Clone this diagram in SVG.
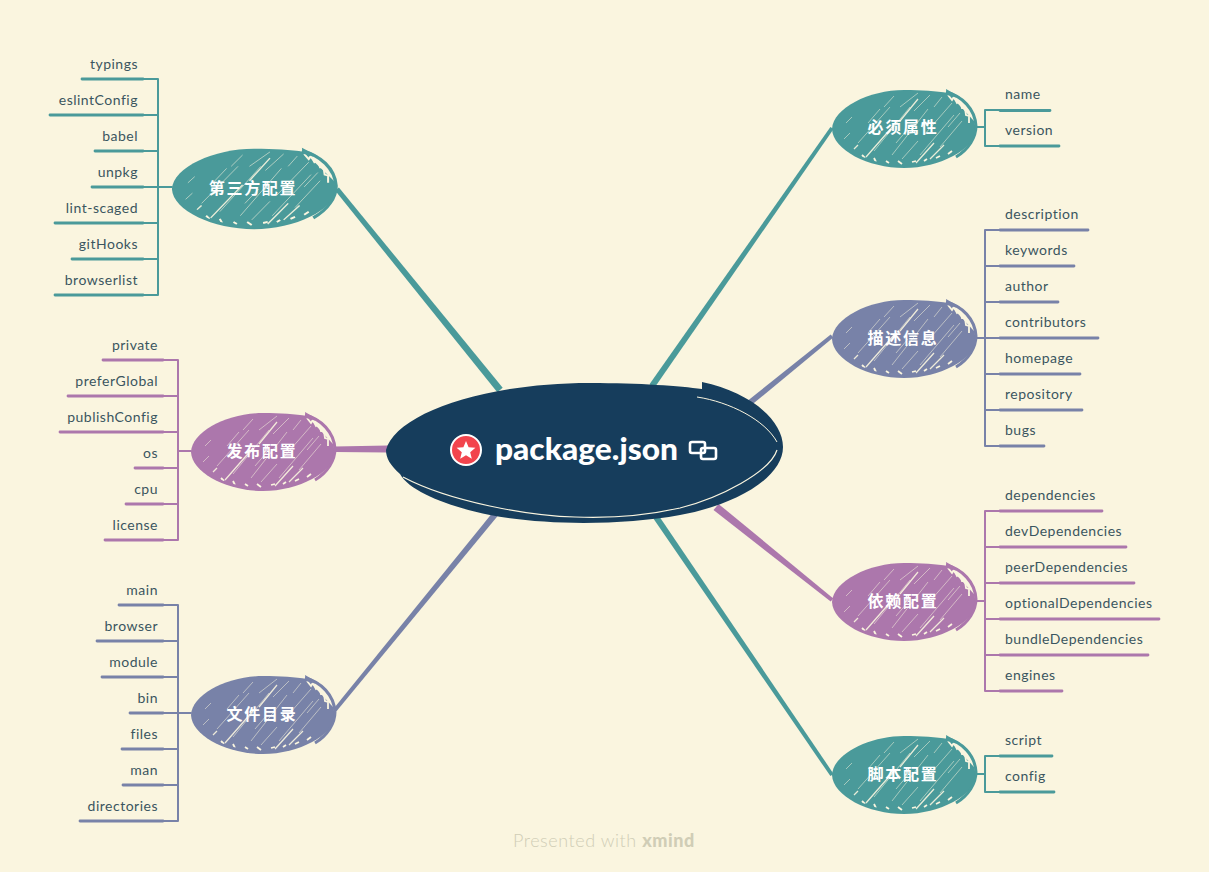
<svg xmlns="http://www.w3.org/2000/svg" width="1209" height="872" viewBox="0 0 1209 872">
<style>
.teal{color:#4a9a9a}.slate{color:#7882a8}.purple{color:#ac77ac}
.leaf{font:14px Lato,"Noto Sans",sans-serif;fill:#3a5560;letter-spacing:.5px}
.end{text-anchor:end}
.topic{font:bold 16px "Noto Sans CJK SC",sans-serif;fill:#fff;text-anchor:middle;letter-spacing:1.7px}
.u{fill:none;stroke:currentColor;stroke-width:2.8;stroke-linecap:round}
.v{fill:none;stroke:currentColor;stroke-width:2;stroke-linecap:round}
</style>
<defs>
<clipPath id="cp"><path d="M-70,0C-69,-20 -35,-37 0,-37C20,-37 40,-36 50,-32C62,-26 69,-12 70,0C69,19 35,36 0,36C-35,36 -69,19 -70,0Z"/></clipPath>
<symbol id="blob" overflow="visible" viewBox="-80 -45 160 90" width="160" height="90">
<path fill="currentColor" d="M-72,0C-71,-21 -35,-39 0,-39C18,-39 32,-38 44,-36L70,-8L72,0C71,20 36,39 0,39C-36,39 -71,21 -72,0Z"/>
<path fill="none" stroke="currentColor" stroke-width="3" d="M42,-37C58,-33 71,-20 72,-3C72,8 65,20 52,28"/>
<path fill="currentColor" d="M42,-40L43,-31L56,-32Z"/>
<g clip-path="url(#cp)" fill="none" stroke="#faf5df">
<path stroke-width=".7" opacity=".75" d="M-58,-6L-52,-12M-46,14L-14,-22M-36,-6L-24,-20M-20,-22L-10,-33M-30,22L6,-22M-4,-22L14,-36M-12,26L24,-20M10,-18L26,-34M-2,30L14,12M20,6L48,-26M16,26L50,-14M36,18L58,-8M30,-22L38,-32M-8,14L4,0M44,-2L56,-16M-60,10L-54,4"/>
<path stroke-width="1.300" opacity=".9" d="M-38,28L-10,-4M-4,-8L14,-30M12,34L30,14M26,30L40,16M-50,20L-46,16"/>
<path stroke-width="1.800" d="M44,-34L48,-29L50,-32L53,-26L56,-28L58,-21L61,-21L62,-14L65,-13L65,-6M-42,26L-39,29M-30,29L-28,33M-18,32L-15,34M-6,32L-2,35M8,33L12,32M20,32L23,30M32,29L36,27M44,25L48,22"/>
</g>
</symbol>
</defs>
<rect width="1209" height="872" fill="#faf5df"/>
<g id="connectors">
<polygon fill="#4a9a9a" points="654.5,387.7 649.5,384.3 830.4,126.9 833.6,129.1"/>
<polygon fill="#7882a8" points="743.9,411.3 740.1,406.7 830.7,334.4 833.3,337.6"/>
<polygon fill="#ac77ac" points="718.5,503.9 713.5,510.1 830.7,601.6 833.3,598.4"/>
<polygon fill="#4a9a9a" points="658.5,515.3 653.5,518.7 830.4,776.1 833.6,773.9"/>
<polygon fill="#4a9a9a" points="502.7,387.8 497.3,392.2 335.1,190.6 338.9,187.4"/>
<polygon fill="#ac77ac" points="388,445.500 388,452.500 335,452 335,446.500"/>
<polygon fill="#7882a8" points="499.3,513.9 494.7,510.1 333.5,708.7 336.5,711.3"/>
<g class="teal">
<path class="v" d="M975,127H985M985,110V146M985,110H1000M985,146H1000"/>
<path class="u" d="M1000,110.500H1050M1000,146H1059"/>
<path class="v" d="M975,774H985M985,756V792M985,756H1000M985,792H1000"/>
<path class="u" d="M1000,756H1052M1000,792H1054"/>
<path class="v" d="M172,187H158M158,79V295M158,79H143M158,115H143M158,151H143M158,187H143M158,223H143M158,259H143M158,295H143"/>
<path class="u" d="M143,79H82M143,115H50M143,151H95M143,187H92M143,223H55M143,259H72M143,295H55"/>
</g>
<g class="slate">
<path class="v" d="M975,338H985M985,230V446M985,230H1000M985,266H1000M985,302H1000M985,338H1000M985,374H1000M985,410H1000M985,446H1000"/>
<path class="u" d="M1000,230H1088M1000,266H1074M1000,302H1058M1000,338H1098M1000,374H1080M1000,410H1082M1000,446H1044"/>
<path class="v" d="M191,713H178M178,605V821M178,605H163M178,641H163M178,677H163M178,713H163M178,749H163M178,785H163M178,821H163"/>
<path class="u" d="M163,605H119M163,641H97M163,677H102M163,713H130M163,749H122M163,785H123M163,821H80"/>
</g>
<g class="purple">
<path class="v" d="M975,601H985M985,511V691M985,511H1000M985,547H1000M985,583H1000M985,619H1000M985,655H1000M985,691H1000"/>
<path class="u" d="M1000,511H1102M1000,547H1126M1000,583H1134M1000,619H1159M1000,655H1148M1000,691H1062"/>
<path class="v" d="M191,451H178M178,360V540M178,360H163M178,396H163M178,432H163M178,468H163M178,504H163M178,540H163"/>
<path class="u" d="M163,360H103M163,396H68M163,432H60M163,468H135M163,504H126M163,540H105"/>
</g>
</g>
<g id="central">
<path fill="#163d5c" d="M386,450C395,415 480,383 590,383C640,383 680,386 702,389L702,382C750,392 783,420 783,447C783,478 735,505 680,515C620,526 540,525 490,515C450,507 410,492 400,474C390,465 386,458 386,450Z"/>
<path fill="none" stroke="#faf5df" stroke-width="1" d="M697,397C730,402 765,420 777,442"/>
<path fill="none" stroke="#faf5df" stroke-width="1.200" d="M777,450C770,472 720,498 680,508C640,517 600,518 575,517C530,516 450,502 403,477"/>
<circle cx="466" cy="450" r="15" fill="#f2444d" stroke="#fff" stroke-width="2"/>
<path fill="#fff" d="M466,441L468.600,447.300L475.400,447.800L470.200,452.200L471.800,458.800L466,455.300L460.200,458.800L461.800,452.200L456.600,447.800L463.400,447.300Z"/>
<text x="495" y="460" font-family="Lato,'Noto Sans',sans-serif" font-size="31" font-weight="900" fill="#fff" textLength="183" lengthAdjust="spacingAndGlyphs">package.json</text>
<g fill="none" stroke="#fff" stroke-width="2.600"><rect x="690" y="442" width="15" height="11" rx="2"/><rect x="701" y="448" width="15" height="11" rx="2"/></g>
</g>
<g id="topic-required" class="teal"><use href="#blob" x="824" y="84"/><text class="topic" x="903" y="133">必须属性</text>
<text class="leaf" x="1005" y="99">name</text><text class="leaf" x="1005" y="135">version</text></g>
<g id="topic-description" class="slate"><use href="#blob" x="824" y="294"/><text class="topic" x="903" y="344">描述信息</text>
<text class="leaf" x="1005" y="219">description</text><text class="leaf" x="1005" y="255">keywords</text><text class="leaf" x="1005" y="291">author</text><text class="leaf" x="1005" y="327">contributors</text><text class="leaf" x="1005" y="363">homepage</text><text class="leaf" x="1005" y="399">repository</text><text class="leaf" x="1005" y="435">bugs</text></g>
<g id="topic-deps" class="purple"><use href="#blob" x="824" y="557"/><text class="topic" x="903" y="607">依赖配置</text>
<text class="leaf" x="1005" y="500">dependencies</text><text class="leaf" x="1005" y="536">devDependencies</text><text class="leaf" x="1005" y="572">peerDependencies</text><text class="leaf" x="1005" y="608">optionalDependencies</text><text class="leaf" x="1005" y="644">bundleDependencies</text><text class="leaf" x="1005" y="680">engines</text></g>
<g id="topic-scripts" class="teal"><use href="#blob" x="824" y="730"/><text class="topic" x="903" y="780">脚本配置</text>
<text class="leaf" x="1005" y="745">script</text><text class="leaf" x="1005" y="781">config</text></g>
<g id="topic-third" class="teal"><use href="#blob" transform="translate(254 189) scale(1.14 1.03) translate(-80 -45)"/><text class="topic" x="253" y="194">第三方配置</text>
<text class="leaf end" x="138" y="69">typings</text><text class="leaf end" x="138" y="105">eslintConfig</text><text class="leaf end" x="138" y="141">babel</text><text class="leaf end" x="138" y="177">unpkg</text><text class="leaf end" x="138" y="213">lint-scaged</text><text class="leaf end" x="138" y="249">gitHooks</text><text class="leaf end" x="138" y="285">browserlist</text></g>
<g id="topic-publish" class="purple"><use href="#blob" x="183" y="407"/><text class="topic" x="262" y="457">发布配置</text>
<text class="leaf end" x="158" y="350">private</text><text class="leaf end" x="158" y="386">preferGlobal</text><text class="leaf end" x="158" y="422">publishConfig</text><text class="leaf end" x="158" y="458">os</text><text class="leaf end" x="158" y="494">cpu</text><text class="leaf end" x="158" y="530">license</text></g>
<g id="topic-files" class="slate"><use href="#blob" x="183" y="670"/><text class="topic" x="262" y="720">文件目录</text>
<text class="leaf end" x="158" y="595">main</text><text class="leaf end" x="158" y="631">browser</text><text class="leaf end" x="158" y="667">module</text><text class="leaf end" x="158" y="703">bin</text><text class="leaf end" x="158" y="739">files</text><text class="leaf end" x="158" y="775">man</text><text class="leaf end" x="158" y="811">directories</text></g>
<text id="footer" x="513" y="847" font-family="Lato,'Noto Sans',sans-serif" font-size="18" fill="#d0cdb6" font-weight="300" letter-spacing=".55">Presented with <tspan font-weight="900">xmind</tspan></text>
</svg>
